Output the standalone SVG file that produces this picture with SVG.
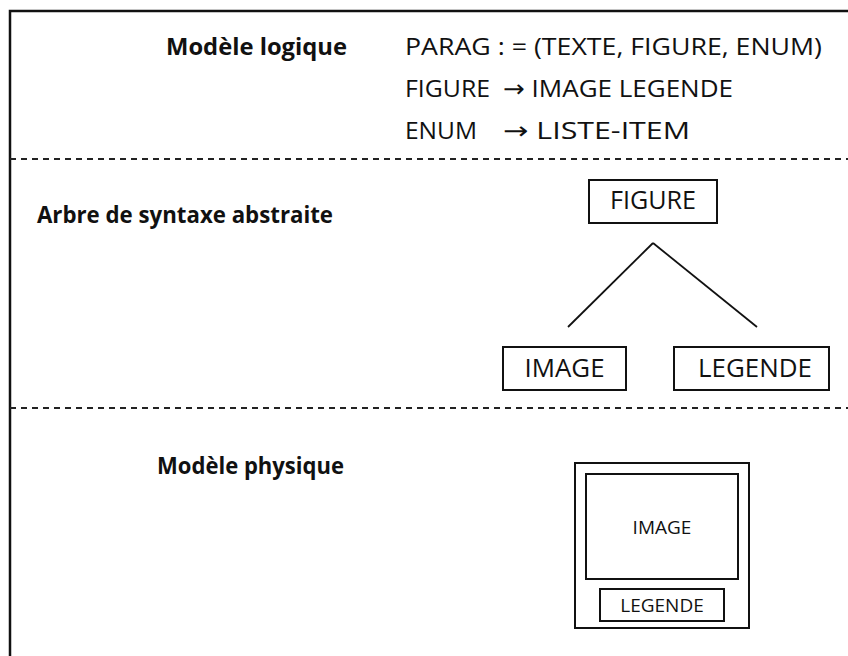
<svg xmlns="http://www.w3.org/2000/svg" width="848" height="656" viewBox="0 0 848 656">
  <style>
    .bg { fill: #ffffff; }
    .frame { fill: none; stroke: #111; stroke-width: 2.5; }
    .sep { fill: none; stroke: #222; stroke-width: 2; stroke-dasharray: 6 5; }
    .box { fill: #ffffff; stroke: #111; stroke-width: 2; }
    .edge { fill: none; stroke: #111; stroke-width: 1.8; }
    .lbl { font-family: "Open Sans", "Noto Sans", "DejaVu Sans", sans-serif; font-weight: 700; font-size: 24px; fill: #111; }
    .txt { font-family: "Open Sans", "Noto Sans", "DejaVu Sans", sans-serif; font-weight: 400; font-size: 24px; fill: #111; }
    .node { font-family: "Open Sans", "Noto Sans", "DejaVu Sans", sans-serif; font-weight: 400; font-size: 25px; fill: #111; }
    .small { font-family: "Open Sans", "Noto Sans", "DejaVu Sans", sans-serif; font-weight: 400; font-size: 19px; fill: #111; }
  </style>

  <rect class="bg" x="0" y="0" width="848" height="656"/>

  <!-- outer frame: top and left rules -->
  <g id="frame">
    <path class="frame" d="M10 656 V11 H848"/>
  </g>

  <!-- section separators -->
  <g id="separators">
    <line class="sep" x1="10" y1="159" x2="848" y2="159"/>
    <line class="sep" x1="10" y1="408" x2="848" y2="408"/>
  </g>

  <!-- logical model -->
  <g id="logical-model">
    <text class="lbl" x="166" y="55" textLength="181" lengthAdjust="spacingAndGlyphs">Modèle logique</text>
    <text class="txt" x="405" y="55" textLength="417" lengthAdjust="spacingAndGlyphs">PARAG : = (TEXTE, FIGURE, ENUM)</text>
    <text class="txt" x="405" y="97" textLength="85" lengthAdjust="spacingAndGlyphs">FIGURE</text>
    <text class="txt" x="503" y="97" textLength="230" lengthAdjust="spacingAndGlyphs">→ IMAGE LEGENDE</text>
    <text class="txt" x="405" y="139" textLength="72" lengthAdjust="spacingAndGlyphs">ENUM</text>
    <text class="txt" x="503" y="139" textLength="187" lengthAdjust="spacingAndGlyphs">→ LISTE-ITEM</text>
  </g>

  <!-- abstract syntax tree -->
  <g id="ast-label">
    <text class="lbl" x="37" y="223" textLength="296" lengthAdjust="spacingAndGlyphs">Arbre de syntaxe abstraite</text>
  </g>

  <g id="connectors">
    <line class="edge" x1="653" y1="243" x2="568" y2="327"/>
    <line class="edge" x1="653" y1="243" x2="757" y2="327"/>
  </g>

  <g id="node-figure">
    <rect class="box" x="589" y="180" width="128" height="43"/>
    <text class="node" x="653" y="209" text-anchor="middle" textLength="86" lengthAdjust="spacingAndGlyphs">FIGURE</text>
  </g>

  <g id="node-image">
    <rect class="box" x="503" y="347" width="123" height="43"/>
    <text class="node" x="564.5" y="377" text-anchor="middle" textLength="80" lengthAdjust="spacingAndGlyphs">IMAGE</text>
  </g>

  <g id="node-legende">
    <rect class="box" x="674" y="347" width="155" height="43"/>
    <text class="node" x="755" y="377" text-anchor="middle" textLength="114" lengthAdjust="spacingAndGlyphs">LEGENDE</text>
  </g>

  <!-- physical model -->
  <g id="physical-label">
    <text class="lbl" x="157" y="474" textLength="187" lengthAdjust="spacingAndGlyphs">Modèle physique</text>
  </g>

  <g id="physical-layout">
    <rect class="box" x="575" y="463" width="174" height="165"/>
    <rect class="box" x="586" y="474" width="152" height="105"/>
    <text class="small" x="662" y="534" text-anchor="middle">IMAGE</text>
    <rect class="box" x="600" y="589" width="124" height="32"/>
    <text class="small" x="662" y="612" text-anchor="middle">LEGENDE</text>
  </g>
</svg>
